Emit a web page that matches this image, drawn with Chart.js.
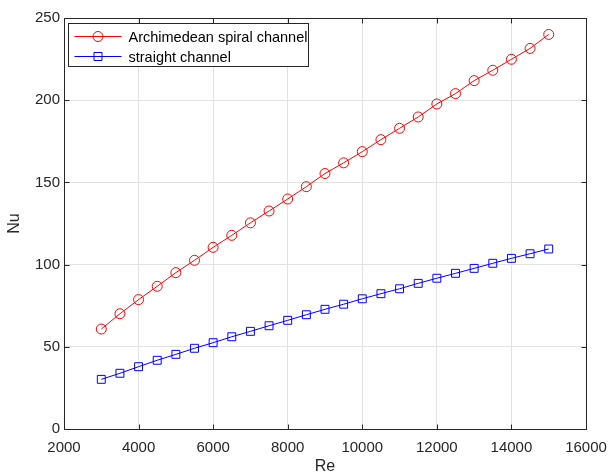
<!DOCTYPE html>
<html>
<head>
<meta charset="utf-8">
<script src="https://cdn.jsdelivr.net/npm/chart.js@4"></script>
<style>
  body { margin: 0; background: #fff; }
  #nuChart { display: block; }
</style>
</head>
<body>
<canvas id="nuChart" width="612" height="476"></canvas>
<script>
// Reynolds number (x)
var re = [3000, 3500, 4000, 4500, 5000, 5500, 6000, 6500, 7000, 7500, 8000, 8500, 9000,
          9500, 10000, 10500, 11000, 11500, 12000, 12500, 13000, 13500, 14000, 14500, 15000];
// Nusselt number
var nuSpiral = [60.8, 70.1, 78.7, 86.8, 95.1, 102.6, 110.5, 117.8, 125.4, 132.6, 139.9, 147.4, 155.4,
                161.9, 168.7, 176.0, 182.9, 189.8, 197.7, 204.0, 211.9, 218.2, 224.9, 231.5, 240.0];
var nuStraight = [30.2, 33.9, 37.9, 41.8, 45.4, 49.1, 52.5, 56.1, 59.4, 62.8, 66.1, 69.5, 72.8,
                  75.9, 79.2, 82.3, 85.3, 88.6, 91.7, 94.7, 97.7, 100.8, 103.8, 106.6, 109.5];
var seriesNames = ['Archimedean spiral channel', 'straight channel'];
var xTicks = { min: 2000, max: 16000, step: 2000 };
var yTicks = { min: 0, max: 250, step: 50 };

var FONT = 'Arial, "Liberation Sans", Helvetica, sans-serif';
var TXT = '#262626';

function pts(ys) {
  return re.map(function (x, i) { return { x: x, y: ys[i] }; });
}

// box around the axes with inward tick marks (matlab style)
var boxPlugin = {
  id: 'box',
  afterDatasetsDraw: function (chart) {
    var ctx = chart.ctx, a = chart.chartArea;
    var xs = chart.scales.x, ys = chart.scales.y;
    var L = Math.round(a.left) + 0.5, R = Math.round(a.right) + 0.5;
    var T = Math.round(a.top) + 0.5, B = Math.round(a.bottom) + 0.5;
    ctx.save();
    ctx.strokeStyle = TXT;
    ctx.lineWidth = 1;
    ctx.beginPath();
    xs.ticks.forEach(function (t) {
      var px = Math.round(xs.getPixelForValue(t.value)) + 0.5;
      ctx.moveTo(px, B); ctx.lineTo(px, B - 5);
      ctx.moveTo(px, T); ctx.lineTo(px, T + 5);
    });
    ys.ticks.forEach(function (t) {
      var py = Math.round(ys.getPixelForValue(t.value)) + 0.5;
      ctx.moveTo(L, py); ctx.lineTo(L + 5, py);
      ctx.moveTo(R, py); ctx.lineTo(R - 5, py);
    });
    ctx.stroke();
    ctx.strokeRect(L, T, R - L, B - T);
    ctx.restore();
  }
};

// legend box in the upper left corner of the axes
var legendPlugin = {
  id: 'boxLegend',
  afterDraw: function (chart) {
    var ctx = chart.ctx, a = chart.chartArea;
    var bx = Math.round(a.left) + 4.5, by = Math.round(a.top) + 5.5;
    var bw = 240, bh = 43;
    ctx.save();
    ctx.fillStyle = '#fff';
    ctx.fillRect(bx, by, bw, bh);
    ctx.strokeStyle = TXT;
    ctx.lineWidth = 1;
    ctx.strokeRect(bx, by, bw, bh);
    chart.data.datasets.forEach(function (ds, i) {
      var rowY = by + 13 + i * 20;
      var x0 = bx + 6, x1 = bx + 53, mx = (x0 + x1) / 2;
      ctx.strokeStyle = ds.borderColor;
      ctx.beginPath();
      ctx.moveTo(x0, rowY); ctx.lineTo(x1, rowY);
      ctx.stroke();
      ctx.beginPath();
      if (ds.pointStyle === 'rect') {
        ctx.rect(mx - 4, rowY - 4, 8, 8);
      } else {
        ctx.arc(mx, rowY, 5, 0, Math.PI * 2);
      }
      ctx.stroke();
      ctx.fillStyle = '#000';
      ctx.font = '14.5px ' + FONT;
      ctx.textBaseline = 'middle';
      ctx.textAlign = 'left';
      ctx.fillText(ds.label, bx + 60, rowY + 1);
    });
    ctx.restore();
  }
};

var ctx = document.getElementById('nuChart');

var chart = new Chart(ctx, {
  type: 'line',
  data: {
    datasets: [
      {
        label: seriesNames[0],
        data: pts(nuSpiral),
        borderColor: '#ff0000',
        backgroundColor: 'rgba(0,0,0,0)',
        borderWidth: 1,
        pointStyle: 'circle',
        pointRadius: 5,
        pointBorderWidth: 1,
        pointBorderColor: '#ff0000',
        pointBackgroundColor: 'rgba(0,0,0,0)',
        tension: 0
      },
      {
        label: seriesNames[1],
        data: pts(nuStraight),
        borderColor: '#0000ff',
        backgroundColor: 'rgba(0,0,0,0)',
        borderWidth: 1,
        pointStyle: 'rect',
        pointRadius: 5.6,
        pointBorderWidth: 1,
        pointBorderColor: '#0000ff',
        pointBackgroundColor: 'rgba(0,0,0,0)',
        tension: 0
      }
    ]
  },
  options: {
    responsive: false,
    animation: false,
    devicePixelRatio: 1,
    layout: { padding: { top: 18, right: 26, left: 0, bottom: 0 } },
    plugins: {
      legend: { display: false },
      tooltip: { enabled: false }
    },
    scales: {
      x: {
        type: 'linear',
        min: xTicks.min,
        max: xTicks.max,
        afterFit: function (s) { s.height = 47; s.paddingRight = 0; },
        grid: { color: '#e3e3e3', drawTicks: false },
        border: { display: false },
        ticks: {
          stepSize: xTicks.step,
          autoSkip: false,
          maxRotation: 0,
          padding: 10,
          color: TXT,
          font: { family: FONT, size: 15 },
          callback: function (v) { return String(v); }
        },
        title: {
          display: true,
          text: 'Re',
          color: TXT,
          font: { family: FONT, size: 16 },
          padding: { top: 0, bottom: 0 }
        }
      },
      y: {
        min: yTicks.min,
        max: yTicks.max,
        afterFit: function (s) { s.width = 64; },
        grid: { color: '#e3e3e3', drawTicks: false },
        border: { display: false },
        ticks: {
          stepSize: yTicks.step,
          padding: 4,
          color: TXT,
          font: { family: FONT, size: 15 }
        },
        title: {
          display: true,
          text: 'Nu',
          color: TXT,
          font: { family: FONT, size: 16 },
          padding: { top: 5, bottom: 0 }
        }
      }
    }
  },
  plugins: [boxPlugin, legendPlugin]
});
</script>
</body>
</html>
